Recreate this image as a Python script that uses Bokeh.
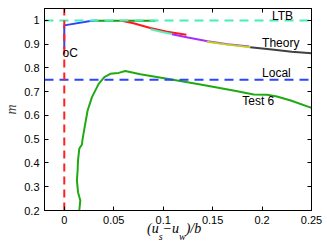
from bokeh.plotting import figure
from bokeh.models import Range1d, LinearAxis, Label, FixedTicker, Div
from bokeh.layouts import column
from bokeh.embed import file_html
from bokeh.resources import INLINE

# ---- data ----
x_ticks = [0, 0.05, 0.1, 0.15, 0.2, 0.25]
y_ticks = [0.2, 0.3, 0.4, 0.5, 0.6, 0.7, 0.8, 0.9, 1.0]

ltb_level = 1.0
local_level = 0.75
c_x = 0.0

test6_x = [0.0152, 0.0162, 0.0139, 0.0128, 0.0135, 0.0139, 0.0152, 0.0162, 0.0179, 0.0185,
           0.0206, 0.0236, 0.028, 0.0348, 0.0405, 0.0466, 0.0516, 0.055, 0.0617, 0.0769,
           0.104, 0.1377, 0.171, 0.1916, 0.205, 0.215, 0.229, 0.25]
test6_y = [0.2, 0.242, 0.277, 0.326, 0.37, 0.411, 0.46, 0.467, 0.478, 0.5,
           0.551, 0.621, 0.677, 0.733, 0.761, 0.775, 0.778, 0.779, 0.787, 0.773,
           0.754, 0.730, 0.705, 0.688, 0.687, 0.680, 0.663, 0.632]

blue_x = [0.0, 0.0, 0.0263, 0.033]
blue_y = [0.88, 0.979, 0.997, 1.0]

green_top_x = [0.033, 0.092]
green_top_y = [0.998, 0.998]

red_x = [0.058, 0.07, 0.087, 0.104, 0.1235]
red_y = [0.998, 0.988, 0.968, 0.952, 0.940]

cyan_x = [0.087, 0.10, 0.11]
cyan_y = [0.963, 0.950, 0.942]

purple_x = [0.109, 0.125, 0.145, 0.165, 0.187]
purple_y = [0.942, 0.928, 0.912, 0.900, 0.890]

yellow_x = [0.144, 0.165, 0.188]
yellow_y = [0.910, 0.898, 0.887]

black_x = [0.188, 0.21, 0.23, 0.25]
black_y = [0.887, 0.877, 0.868, 0.862]

c_point = (0.0, 0.862)

# ---- figure ----
p = figure(width=327, height=230, output_backend="svg", toolbar_location=None,
           x_range=Range1d(-0.02, 0.25), y_range=Range1d(0.2, 1.05),
           min_border_left=44, min_border_right=16, min_border_top=8, min_border_bottom=20)
p.xgrid.visible = False
p.ygrid.visible = False
p.outline_line_color = "black"
p.background_fill_color = "white"
p.border_fill_color = "white"

FONT = "Liberation Sans"

for ax in (p.xaxis[0], p.yaxis[0]):
    ax.major_tick_in = 4
    ax.major_tick_out = 0
    ax.minor_tick_line_color = None
    ax.major_label_text_font = FONT
    ax.major_label_text_font_size = "11px"
    ax.major_label_text_color = "black"
    ax.axis_line_color = "black"
    ax.major_tick_line_color = "black"

p.xaxis[0].ticker = FixedTicker(ticks=x_ticks)
p.yaxis[0].ticker = FixedTicker(ticks=y_ticks)
p.xaxis[0].major_label_overrides = {0: "0", 0.05: "0.05", 0.1: "0.1", 0.15: "0.15", 0.2: "0.2", 0.25: "0.25"}
p.yaxis[0].major_label_overrides = {1.0: "1"}
p.yaxis[0].axis_label = "m"
p.yaxis[0].axis_label_text_font = "Liberation Serif"
p.yaxis[0].axis_label_text_font_style = "italic"
p.yaxis[0].axis_label_text_font_size = "14px"
p.yaxis[0].axis_label_standoff = 2

# box axes (top / right): inward ticks only, labels not drawn
top = LinearAxis(ticker=FixedTicker(ticks=x_ticks), major_label_text_font_size="1px",
                 major_label_text_color=None,
                 major_tick_in=4, major_tick_out=0, minor_tick_line_color=None,
                 major_label_standoff=0)
right = LinearAxis(ticker=FixedTicker(ticks=y_ticks), major_label_text_font_size="1px",
                   major_label_text_color=None,
                   major_tick_in=4, major_tick_out=0, minor_tick_line_color=None,
                   major_label_standoff=0)
p.add_layout(top, "above")
p.add_layout(right, "right")

# ---- curves ----
green = "#1faa12"
p.line(test6_x, test6_y, line_color=green, line_width=2)
p.line(blue_x, blue_y, line_color="#2a44ff", line_width=2)
p.line(green_top_x, green_top_y, line_color="#1a9a10", line_width=2)
p.line(red_x, red_y, line_color="#ff1a1a", line_width=2)
p.line(cyan_x, cyan_y, line_color="#55f0c0", line_width=2)
p.line(purple_x, purple_y, line_color="#a82cff", line_width=2)
p.line(yellow_x, yellow_y, line_color="#bcd41c", line_width=2)
p.line(black_x, black_y, line_color="#404040", line_width=2)

# reference dashed lines
p.line([-0.02, 0.25], [ltb_level, ltb_level], line_color="#44f0b4", line_width=2, line_dash="9 6")
p.line([-0.02, 0.25], [local_level, local_level], line_color="#2a44ff", line_width=2, line_dash="9 6")
p.line([c_x, c_x], [0.2, 1.05], line_color="#ff2020", line_width=2, line_dash="8 5")

# ---- annotations ----
def lab(x, y, t, size="12px", font=FONT, style="normal", base="middle", align="left"):
    p.add_layout(Label(x=x, y=y, text=t, text_font=font, text_font_size=size,
                       text_font_style=style, text_baseline=base, text_align=align,
                       text_color="black"))

lab(0.21, 1.02, "LTB")
lab(0.2, 0.903, "Theory")
lab(0.2, 0.777, "Local")
lab(0.18, 0.66, "Test 6")
lab(-0.0018, c_point[1], "oC")

# x-axis label with sub-scripts (HTML text)
sub = "font-size:10px;position:relative;top:7px;"
xlabel_html = ('<div style="font-family:\'Liberation Serif\',serif;font-style:italic;'
               'font-size:14px;line-height:14px;padding-left:147px;white-space:nowrap;color:black;">'
               '(u<span style="' + sub + '">s</span>\u2212u<span style="' + sub + '">w</span>)/b</div>')
xlabel = Div(text=xlabel_html, width=327, height=22, margin=(-9, 0, 0, 0))

open("out.html", "w").write(file_html(column(p, xlabel, spacing=0), INLINE))
